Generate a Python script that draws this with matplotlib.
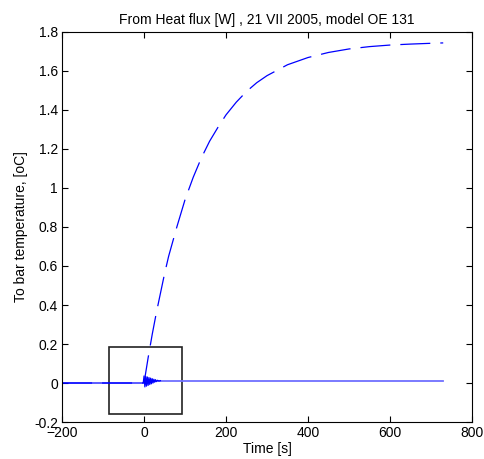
import numpy as np
import matplotlib.pyplot as plt
from matplotlib.patches import Rectangle

plt.rcParams['font.family'] = ['Liberation Sans', 'DejaVu Sans']

# step response
step_t = [-200, -100, 0, 10, 20, 30, 40, 50, 60, 80, 100, 120, 140, 160, 180, 200,
          225, 250, 275, 300, 350, 400, 450, 500, 550, 600, 650, 700, 730]
step_y = [0.0, 0.0, 0.0, 0.13, 0.25, 0.36, 0.46, 0.56, 0.65, 0.80, 0.94, 1.055, 1.155,
          1.24, 1.31, 1.375, 1.44, 1.495, 1.54, 1.576, 1.632, 1.669, 1.695, 1.713,
          1.725, 1.733, 1.738, 1.742, 1.744]

# residual before / around the step
pre_t = [-200, -100, -2, 0, 2, 4, 6, 8, 10, 12, 14, 16, 18, 20, 22, 24, 26, 28, 30, 33, 36, 40]
pre_y = [0.0, 0.0, 0.0, 0.036, -0.02, 0.034, -0.016, 0.031, -0.012, 0.028, -0.008, 0.025,
         -0.004, 0.022, 0.0, 0.019, 0.004, 0.017, 0.007, 0.014, 0.01, 0.012]

# steady line after the step
post_t = [20, 730]
post_y = [0.012, 0.012]

# zoom box
box_t = [-86, 92]
box_y = [-0.16, 0.185]

fig = plt.figure(figsize=(4.85, 4.59), dpi=100)
ax = fig.add_axes([0.128, 0.0806, 0.845, 0.8497])

ax.plot(post_t, post_y, color='#7070ff', lw=1.3)
ax.plot(pre_t, pre_y, color='#0000ff', lw=0.9)
ax.plot(step_t, step_y, color='#0000ff', lw=0.9, dashes=(24, 8))

ax.add_patch(Rectangle((box_t[0], box_y[0]), box_t[1] - box_t[0], box_y[1] - box_y[0],
                       fill=False, edgecolor='#222222', lw=1.2))

ax.set_xlim(-200, 800)
ax.set_ylim(-0.2, 1.8)
ax.set_xticks(np.arange(-200, 801, 200))
ax.set_yticks(np.arange(-0.2, 1.81, 0.2))
ax.set_yticklabels(['-0.2', '0', '0.2', '0.4', '0.6', '0.8', '1', '1.2', '1.4', '1.6', '1.8'])
ax.tick_params(direction='in', top=True, right=True, labelsize=10, length=4, pad=3)

ax.set_title('From Heat flux [W] , 21 VII 2005, model OE 131', fontsize=10, pad=6)
ax.set_xlabel('Time [s]', fontsize=10, labelpad=1)
ax.set_ylabel('To bar temperature, [oC]', fontsize=10, labelpad=4)

plt.savefig('out.png', dpi=100)
